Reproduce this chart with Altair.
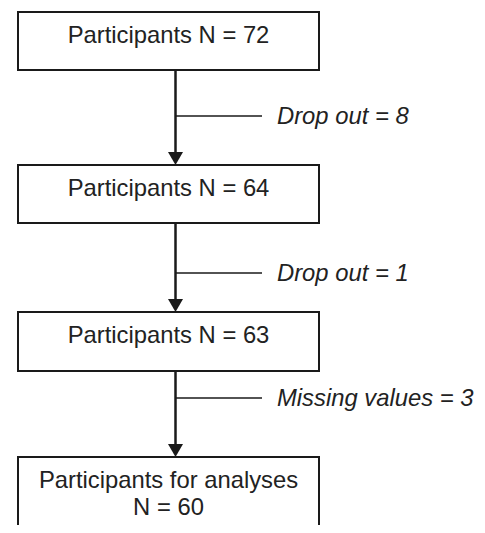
import altair as alt
import pandas as pd

# Flowchart data
box_top = [12, 165, 312, 457]
box_bottom = [70, 223, 371, 545]
box_lines = [["Participants N = 72"], ["Participants N = 64"], ["Participants N = 63"],
             ["Participants for analyses", "N = 60"]]
branch_y = [116, 273, 398]
branch_labels = ["Drop out = 8", "Drop out = 1", "Missing values = 3"]

BOX_L, BOX_R = 18, 319
ARROW_X = 175.5
BRANCH_END = 262
LABEL_X = 277
FONT = "Liberation Sans"
FS = 23.8
INK = "#1a1a1a"

boxes = pd.DataFrame({"x": BOX_L, "x2": BOX_R, "y": box_top, "y2": box_bottom})

texts = []
for top, lines in zip(box_top, box_lines):
    for j, t in enumerate(lines):
        texts.append({"x": (BOX_L + BOX_R) / 2, "y": top + 31 + j * 27, "t": t})
texts = pd.DataFrame(texts)

shafts = pd.DataFrame({"x": ARROW_X, "y": box_bottom[:-1],
                       "y2": [t - 10 for t in box_top[1:]]})
heads = pd.DataFrame({"x": ARROW_X, "y": [t - 6.5 for t in box_top[1:]]})
branches = pd.DataFrame({"x": ARROW_X, "x2": BRANCH_END, "y": branch_y})
blabels = pd.DataFrame({"x": LABEL_X, "y": [b + 8 for b in branch_y], "t": branch_labels})

xs = alt.Scale(domain=[8, 477], nice=False, zero=False)
ys = alt.Scale(domain=[8, 525], nice=False, zero=False, reverse=True)
X = lambda f="x": alt.X(f"{f}:Q", scale=xs, axis=None)
Y = lambda f="y": alt.Y(f"{f}:Q", scale=ys, axis=None)

rect = alt.Chart(boxes).mark_rect(fill="white", stroke=INK, strokeWidth=2, clip=True).encode(
    x=X(), x2="x2:Q", y=Y(), y2="y2:Q")
txt = alt.Chart(texts).mark_text(font=FONT, fontSize=FS, color="#222", align="center",
                                 baseline="alphabetic").encode(x=X(), y=Y(), text="t:N")
shaft = alt.Chart(shafts).mark_rule(color=INK, strokeWidth=2.5).encode(x=X(), y=Y(), y2="y2:Q")
head = alt.Chart(heads).mark_point(shape="M-1,-0.87L1,-0.87L0,0.87Z", size=225, filled=True,
                                   color=INK, opacity=1).encode(x=X(), y=Y())
branch = alt.Chart(branches).mark_rule(color=INK, strokeWidth=1.5).encode(x=X(), x2="x2:Q", y=Y())
blab = alt.Chart(blabels).mark_text(font=FONT, fontSize=FS, fontStyle="italic", color="#222",
                                    align="left", baseline="alphabetic").encode(x=X(), y=Y(), text="t:N")

chart = (rect + shaft + branch + head + txt + blab).properties(
    width=469, height=517, padding=0, autosize="none"
).configure_view(strokeWidth=0)

chart.save("out.html", embed_options={"renderer": "svg", "actions": False})
